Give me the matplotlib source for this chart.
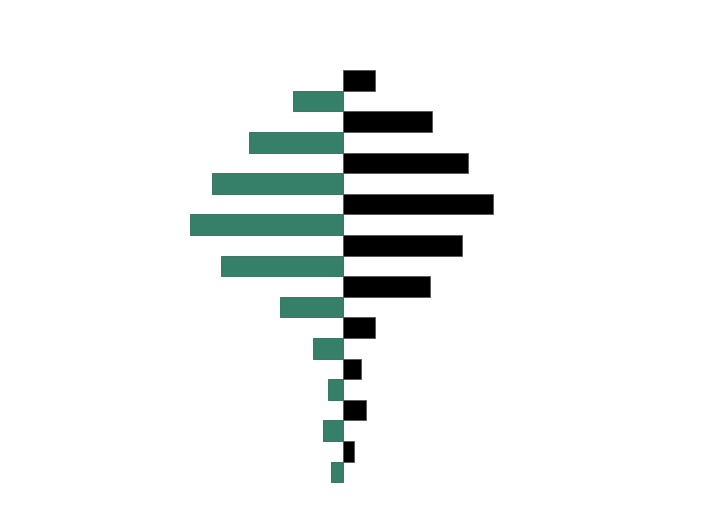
import matplotlib
matplotlib.use("Agg")
import matplotlib.pyplot as plt
import numpy as np

# values (in chart units) for the two alternating series
black_values = [32, 89, 125, 150, 119, 87, 32, 18, 23, 11]
green_values = [50, 94, 131, 153, 122, 63, 30, 15, 20, 12]

black_rows = np.arange(0, 20, 2)
green_rows = np.arange(1, 20, 2)

fig = plt.figure(figsize=(7.01, 5.25), dpi=100)
ax = fig.add_axes([0, 0, 1, 1])

ax.barh(black_rows, black_values, height=1.0, color="#000000",
        edgecolor="#555555", linewidth=0.6)
ax.barh(green_rows, [-v for v in green_values], height=1.0, color="#36806A",
        edgecolor="#2a6b55", linewidth=0.6)

ax.set_xlim(-342.5, 701 - 342.5)
ax.set_ylim(21.57, -3.9)
ax.axis("off")

fig.savefig("out.png", dpi=100)
